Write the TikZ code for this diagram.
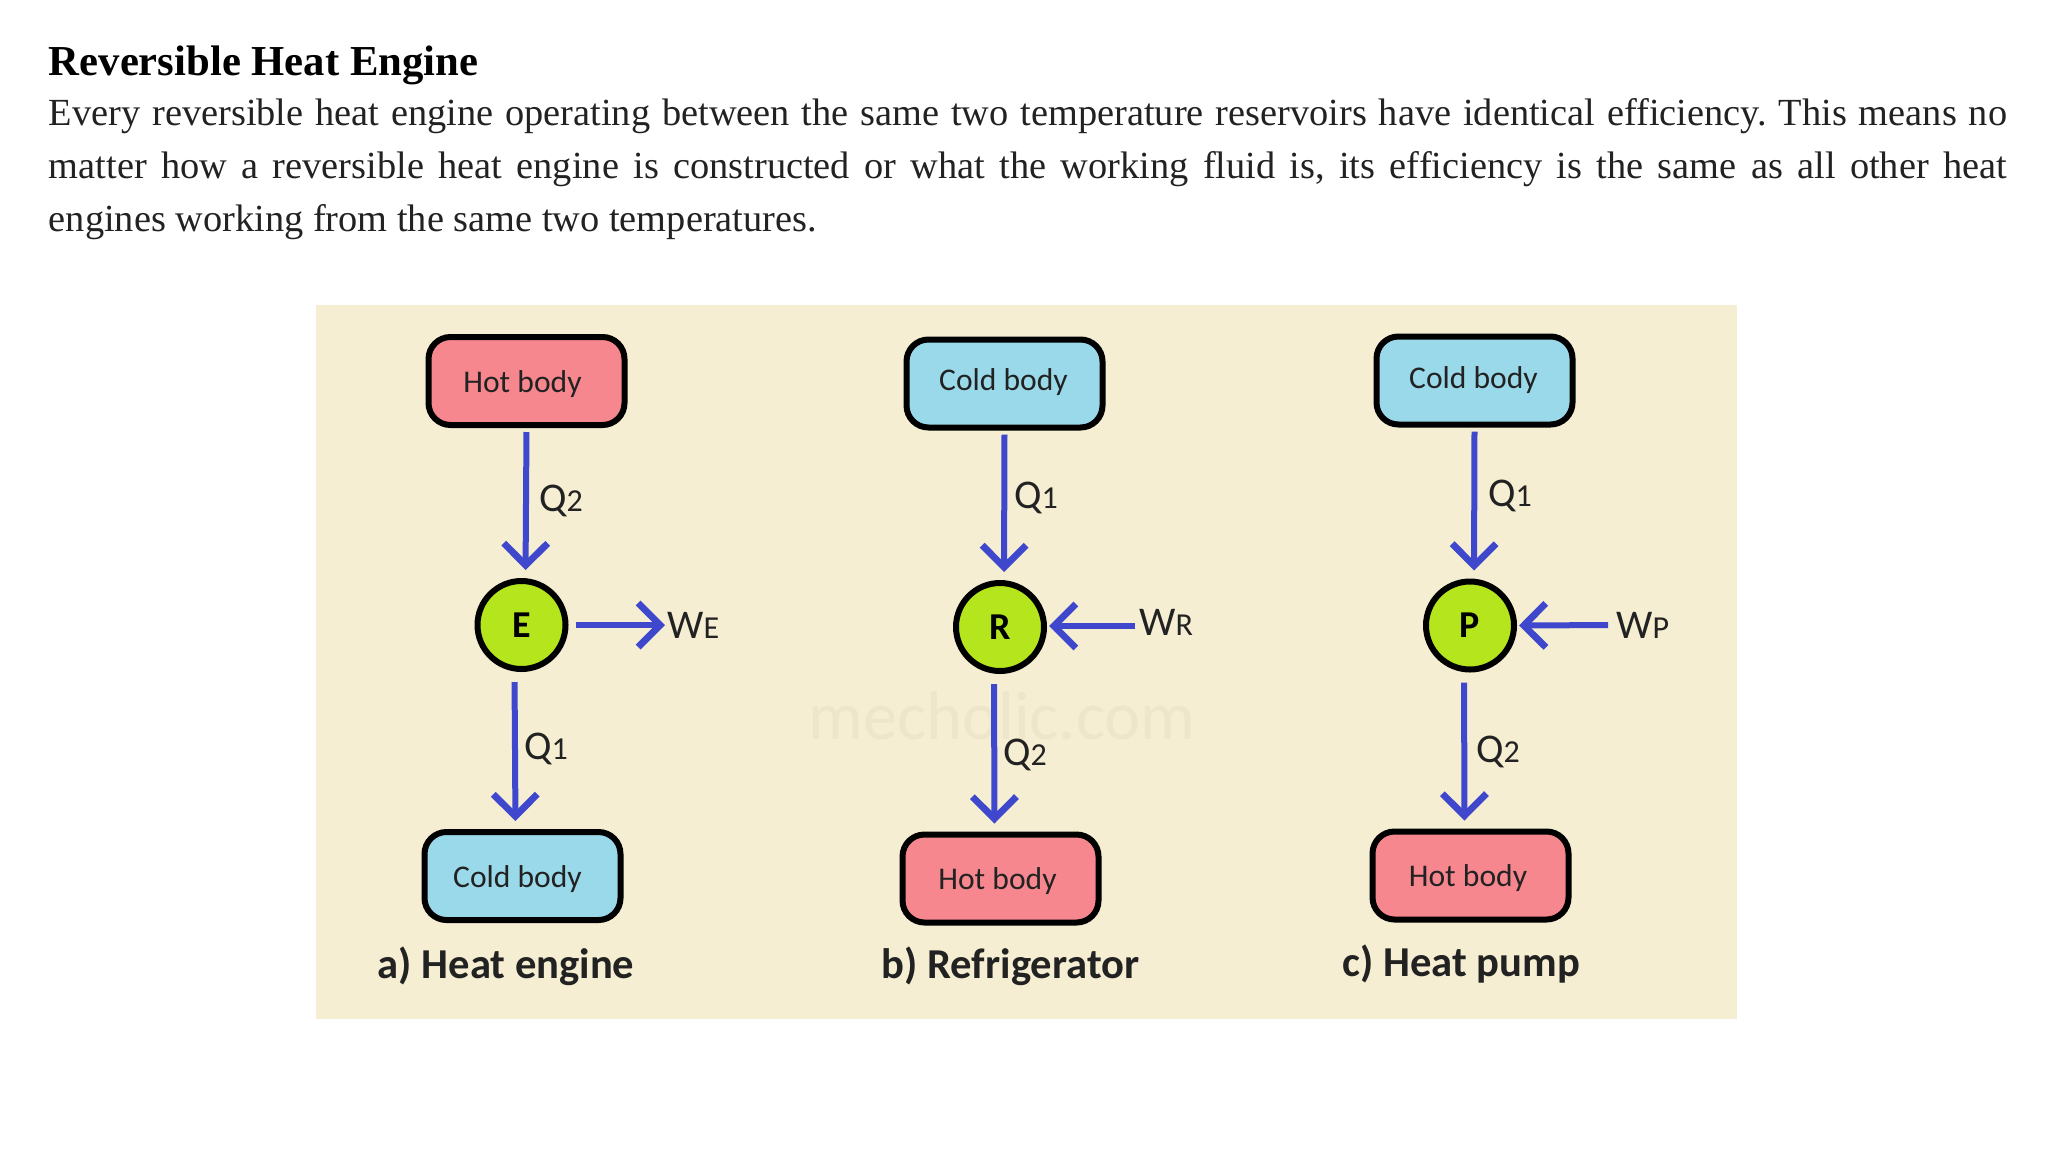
\documentclass[tikz,border=0pt]{standalone}
\usepackage{fontspec}
\setmainfont{Liberation Serif}
\newfontfamily\calib{Carlito}
\usetikzlibrary{arrows.meta}
\frenchspacing
\definecolor{panel}{HTML}{F5EED3}
\definecolor{mark}{HTML}{EDE6CA}
\definecolor{hotc}{HTML}{F7878F}
\definecolor{coldc}{HTML}{99D9EA}
\definecolor{limec}{HTML}{B5E61D}
\definecolor{flowc}{HTML}{3F48CC}
\definecolor{inkc}{HTML}{222222}
\tikzset{
  bodybox/.style={draw=black,line width=3pt,rounded corners=11pt,minimum width=98pt,minimum height=44pt,inner sep=0pt,font=\calib\fontsize{15.8}{18}\selectfont,text=inkc},
  hotbox/.style={bodybox,fill=hotc},
  coldbox/.style={bodybox,fill=coldc},
  machine/.style={circle,draw=black,line width=3pt,fill=limec,minimum size=44pt,inner sep=0pt,font=\calib\bfseries\fontsize{19}{21}\selectfont},
  flow/.style={draw=flowc,line width=3pt,-{Straight Barb[length=11pt,width=22pt,line width=3.4pt]}},
  qlabel/.style={inner sep=0pt,font=\calib\fontsize{20.4}{24}\selectfont,text=inkc},
  caption/.style={inner sep=0pt,font=\calib\bfseries\fontsize{21.3}{25}\selectfont,text=inkc}
}
\newcommand{\sm}[1]{{\fontsize{16}{18}\selectfont #1}}
\newcommand{\nudge}[3]{\raisebox{\dimexpr#2-4.2pt\relax}[0pt][0pt]{\makebox[0pt][c]{\hspace*{#1}#3}}}
\begin{document}
\begin{tikzpicture}[x=0.5pt,y=-0.5pt]
\useasboundingbox (0,0) rectangle (2048,1152);
\fill[white] (0,0) rectangle (2048,1152);
\node[anchor=base west,inner sep=0pt,font=\bfseries\fontsize{21.35}{24}\selectfont] (title) at (48.5,75.5) {Reversible Heat Engine};
\node[anchor=north west,inner sep=0pt,text width=979pt,align=justify,text=inkc,font=\fontsize{19.18}{26.5}\selectfont] (para) at (48.5,98) {Every reversible heat engine operating between the same two temperature reservoirs have identical efficiency. This means no\linebreak matter how a reversible heat engine is constructed or what the working fluid is, its efficiency is the same as all other heat\linebreak engines working from the same two temperatures.};
\fill[panel] (316,305) rectangle (1737,1019);
\node[inner sep=0pt,text=mark,font=\calib\fontsize{34.3}{40}\selectfont] (wm) at (1002,715.5) {mecholic.com};

% a
\node[hotbox] (hotA) at (526.5,381) {\nudge{-4pt}{-1.3pt}{Hot body}};
\node[machine] (engA) at (521.5,625) {E};
\node[coldbox] (coldA) at (522.5,876) {\nudge{-5pt}{-1.3pt}{Cold body}};
\node[caption] (capA) at (506,966) {a) Heat engine};
\node[qlabel] (q2A) at (561,501) {Q\sm{2}};
\node[qlabel] (q1A) at (546,749) {Q\sm{1}};
\node[qlabel,anchor=west] (wE) at (667,625) {W\sm{E}};
\draw[flow,shorten <=2pt,shorten >=4pt] (hotA.south) -- ([xshift=2pt]engA.north);
\draw[flow,shorten <=3.5pt,shorten >=1pt] (engA.east) -- (wE.west);
\draw[flow,shorten <=5pt,shorten >=4pt] ([xshift=-3.5pt]engA.south) -- ([xshift=-3.5pt]coldA.north);

% b
\node[coldbox] (coldB) at (1004.5,383.5) {\nudge{-1pt}{0.65pt}{Cold body}};
\node[machine] (engB) at (1000,627) {R};
\node[hotbox] (hotB) at (1000.5,878.5) {\nudge{-3pt}{-1.3pt}{Hot body}};
\node[caption] (capB) at (1010.5,966) {b) Refrigerator};
\node[qlabel] (q1B) at (1036,498) {Q\sm{1}};
\node[qlabel] (q2B) at (1025,755) {Q\sm{2}};
\node[qlabel,anchor=west] (wR) at (1139,622) {W\sm{R}};
\draw[flow,shorten <=2pt,shorten >=1pt] ([yshift=-2pt]wR.west) -- ([yshift=.5pt]engB.east);
\draw[flow,shorten <=2pt,shorten >=4pt] (coldB.south) -- ([xshift=2pt]engB.north);
\draw[flow,shorten <=5pt,shorten >=4pt] ([xshift=-3pt]engB.south) -- ([xshift=-3pt]hotB.north);

% c
\node[coldbox] (coldC) at (1474.5,380.5) {\nudge{-1pt}{0pt}{Cold body}};
\node[machine] (engC) at (1470,625.5) {P};
\node[hotbox] (hotC) at (1470.5,875.5) {\nudge{-2.5pt}{-1.3pt}{Hot body}};
\node[caption] (capC) at (1461.5,964) {c) Heat pump};
\node[qlabel] (q1C) at (1510,496) {Q\sm{1}};
\node[qlabel] (q2C) at (1498,752) {Q\sm{2}};
\node[qlabel,anchor=west] (wP) at (1616,625) {W\sm{P}};
\draw[flow,shorten <=4pt,shorten >=1pt] (wP.west) -- (engC.east);
\draw[flow,shorten <=2pt,shorten >=4pt] (coldC.south) -- ([xshift=2pt]engC.north);
\draw[flow,shorten <=5pt,shorten >=4pt] ([xshift=-3pt]engC.south) -- ([xshift=-3pt]hotC.north);
\end{tikzpicture}
\end{document}
